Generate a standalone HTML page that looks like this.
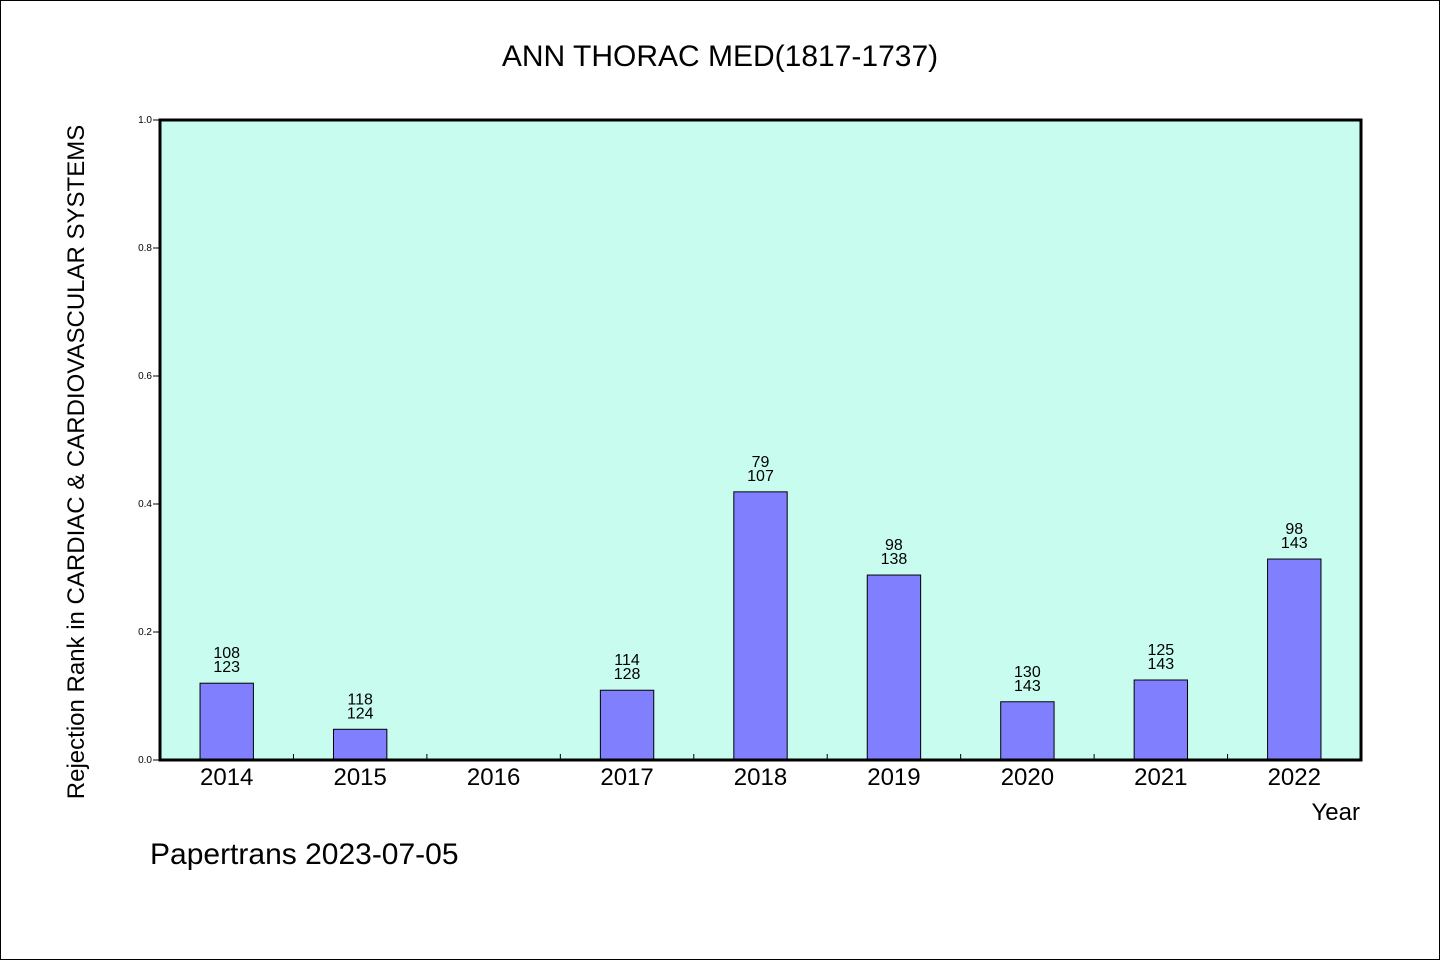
<!DOCTYPE html>
<html><head><meta charset="utf-8"><style>
body{margin:0;background:#fff}
svg{display:block}
text{font-family:"WenQuanYi Zen Hei","Liberation Sans",sans-serif;fill:#000}
</style></head><body>
<svg width="1440" height="960">
<rect x="0.5" y="0.5" width="1439" height="959" fill="#fff" stroke="#000"/>
<text x="720" y="66" font-size="30" text-anchor="middle">ANN THORAC MED(1817-1737)</text>
<rect x="160" y="120" width="1201" height="640" fill="#c8fcee"/>
<g id="bars"></g>
<g id="axes"></g>
<rect x="160" y="120" width="1201" height="640" fill="none" stroke="#000" stroke-width="3"/>
<text x="1360" y="820" font-size="24" text-anchor="end">Year</text>
<text transform="translate(84,462) rotate(-90)" font-size="24" text-anchor="middle">Rejection Rank in CARDIAC &amp; CARDIOVASCULAR SYSTEMS</text>
<text x="150" y="864" font-size="30">Papertrans 2023-07-05</text>
</svg>
<script>
const categories=["2014","2015","2016","2017","2018","2019","2020","2021","2022"];
const values=[0.120,0.048,null,0.109,0.419,0.289,0.091,0.125,0.314];
const labelTop=["108","118","","114","79","98","130","125","98"];
const labelBottom=["123","124","","128","107","138","143","143","143"];
const yTicks=[0,0.2,0.4,0.6,0.8,1.0];
const X0=160,X1=1361,Y0=760,Y1=120;
const step=(X1-X0)/categories.length;
const xc=i=>X0+step*(i+0.5);
const y=v=>Y0-(Y0-Y1)*v;
const ns="http://www.w3.org/2000/svg";
function mk(t,a,p){const e=document.createElementNS(ns,t);for(const k in a)e.setAttribute(k,a[k]);p.appendChild(e);return e;}
const bars=document.getElementById('bars'),axes=document.getElementById('axes');
const bw=step*0.4;
categories.forEach((c,i)=>{
  const v=values[i];
  if(v!==null){
    const r=mk('rect',{x:xc(i)-bw/2,y:y(v),width:bw,height:Y0-y(v),fill:'#8080ff',stroke:'#000','stroke-width':1},bars);
    
    
    const t1=mk('text',{x:xc(i),y:y(v)-25,'font-size':16,'text-anchor':'middle'},bars);t1.textContent=labelTop[i];
    
    
    const t2=mk('text',{x:xc(i),y:y(v)-11,'font-size':16,'text-anchor':'middle'},bars);t2.textContent=labelBottom[i];
    
    
  }
  const xt=mk('text',{x:xc(i),y:785,'font-size':24,'text-anchor':'middle'},axes);xt.textContent=c;
  
  
  if(i>0){const l=mk('line',{x1:X0+step*i,x2:X0+step*i,y1:Y0,y2:Y0-6,stroke:'#000'},axes);
  
  }
});
yTicks.forEach(v=>{
  const l=mk('line',{x1:X0-7,x2:X0,y1:y(v),y2:y(v),stroke:'#000'},axes);
  
  
  const t=mk('text',{x:X0-8,y:y(v)+3,'font-size':10,'text-anchor':'end'},axes);t.textContent=v.toFixed(1);
  
  
});
</script>
</body></html>
